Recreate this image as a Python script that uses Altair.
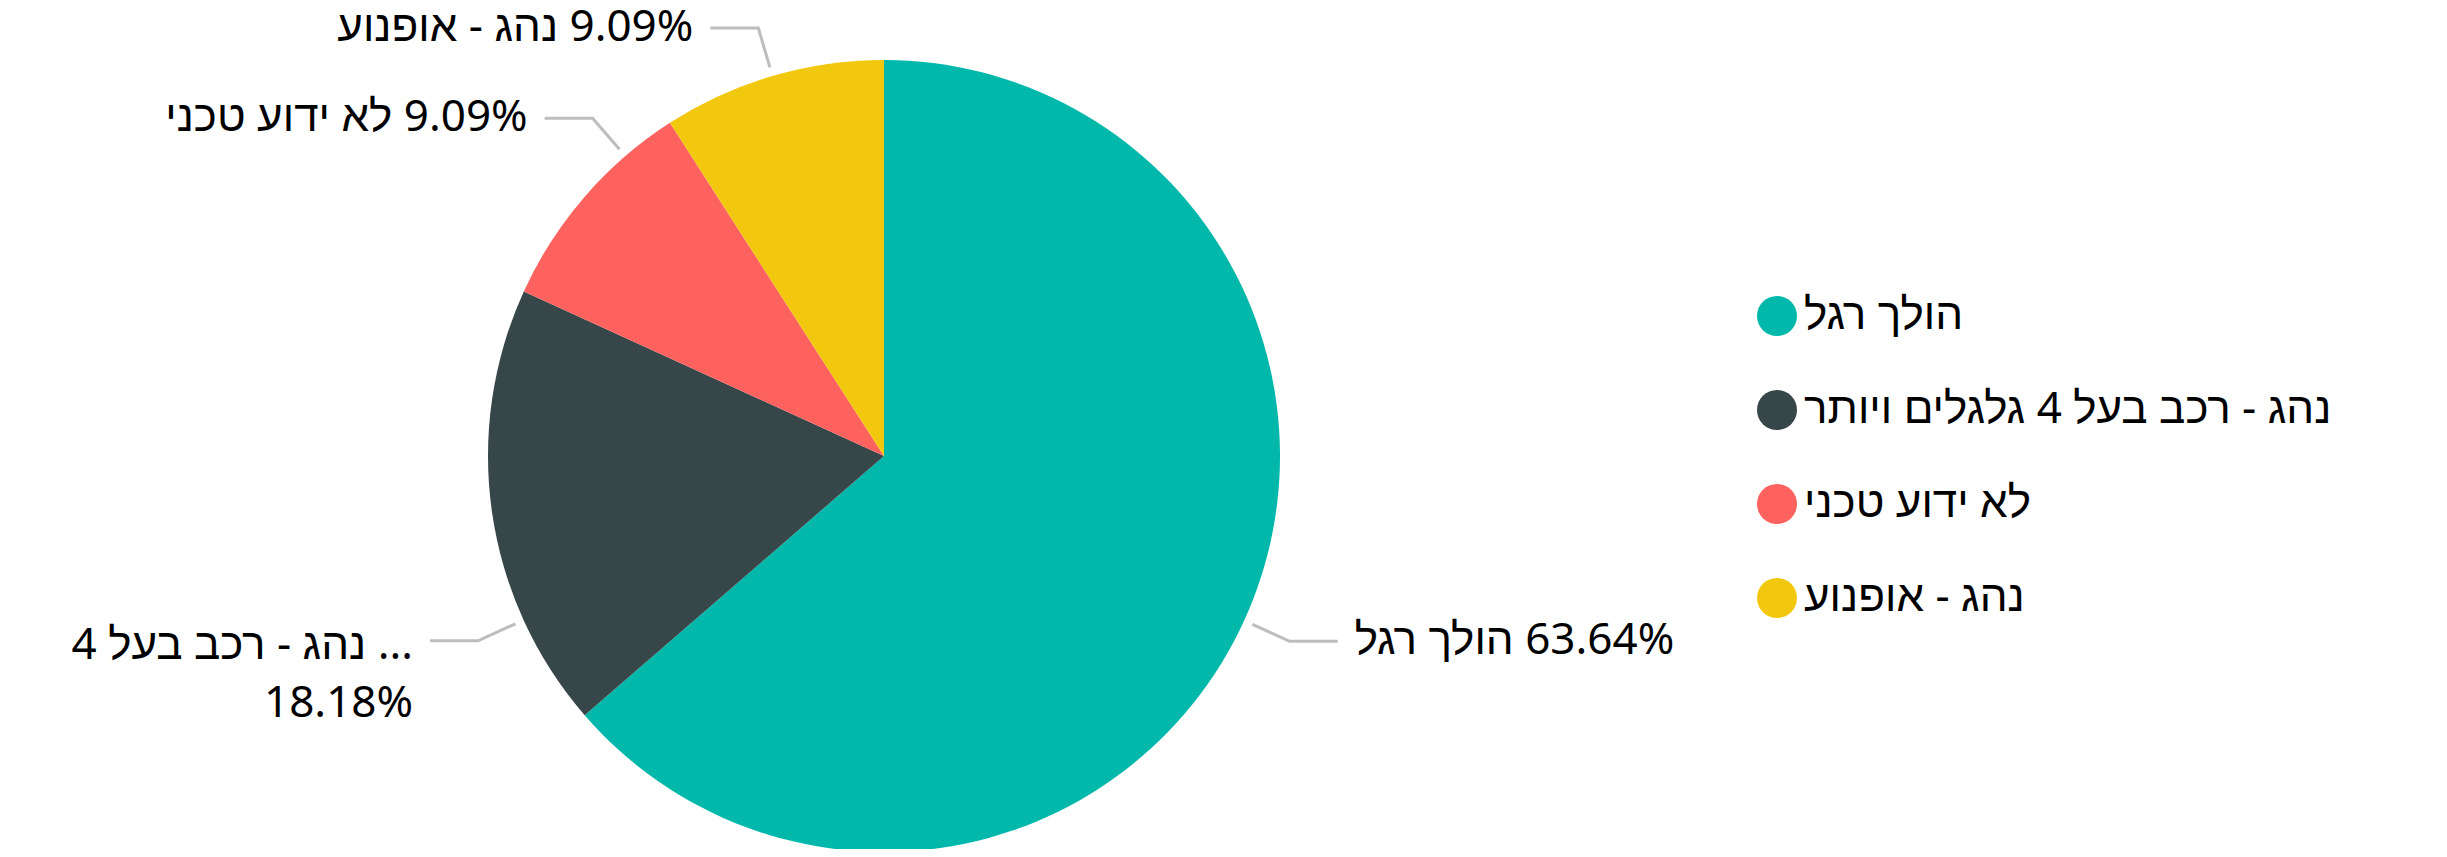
import math
import altair as alt
import pandas as pd

# ---- data ----
categories = ["הולך רגל", "נהג - רכב בעל 4 גלגלים ויותר", "לא ידוע טכני", "נהג - אופנוע"]
percents = [63.64, 18.18, 9.09, 9.09]
label_names = ["הולך רגל", "נהג - רכב בעל 4 ...", "לא ידוע טכני", "נהג - אופנוע"]
label_two_line = [False, True, False, False]
colors = ["#01B8AA", "#374649", "#FD625E", "#F2C80F"]

# ---- layout / style ----
W, H = 2431, 841
CX, CY = 876, 448          # pie centre inside the chart
R = 396                    # pie radius
R_LEAD0, R_LEAD1 = 405, 446
HSEG, TGAP = 48, 17
angle_nudge = [0.0, -16.3, 8.3, 0.0]   # label placement nudges (degrees)
FONT = "Noto Sans, Liberation Sans, sans-serif"
FS = 44
LEAD_COLOR = "#BDBDBD"

pie_df = pd.DataFrame({"cat": categories, "value": percents, "idx": range(len(categories))})

total = sum(percents)
line_rows, text_rows = [], []
cum = 0.0
for i, (cat, v) in enumerate(zip(categories, percents)):
    mid = (cum + v / 2) / total * 360 + angle_nudge[i]
    cum += v
    a = math.radians(mid)
    sx, sy = CX + R_LEAD0 * math.sin(a), CY - R_LEAD0 * math.cos(a)
    ex, ey = CX + R_LEAD1 * math.sin(a), CY - R_LEAD1 * math.cos(a)
    side = 1 if math.sin(a) >= 0 else -1
    hx = ex + side * HSEG
    line_rows += [
        {"cat": cat, "pt": 0, "lx": sx, "ly": sy},
        {"cat": cat, "pt": 1, "lx": ex, "ly": ey},
        {"cat": cat, "pt": 2, "lx": hx, "ly": ey},
    ]
    pct = f"{v:.2f}%"
    if label_two_line[i]:
        txt = f"{label_names[i]}\n{pct}"
    else:
        txt = f"{label_names[i]}\u200e {pct}"
    text_rows.append({"cat": cat, "tx": hx + side * TGAP, "ty": ey + (5 if label_two_line[i] else 0),
                      "label": txt, "side": "right" if side > 0 else "left"})

lines_df = pd.DataFrame(line_rows)
text_df = pd.DataFrame(text_rows)

pie = alt.Chart(pie_df).mark_arc(outerRadius=R).encode(
    theta=alt.Theta("value:Q", stack=True),
    color=alt.Color(
        "cat:N",
        scale=alt.Scale(domain=categories, range=colors),
        sort=categories,
        legend=alt.Legend(
            orient="none", legendX=1747, legendY=286, title=None,
            symbolType="circle", symbolSize=1600, symbolStrokeWidth=0,
            symbolOpacity=1, labelFontSize=FS, labelFont=FONT,
            labelColor="#000000", labelOffset=5, rowPadding=50,
            labelLimit=2000, padding=0,
        ),
    ),
    order=alt.Order("idx:Q"),
    x=alt.value(CX),
    y=alt.value(CY),
)

leaders = alt.Chart(lines_df).mark_line(color=LEAD_COLOR, strokeWidth=3).encode(
    x=alt.X("lx:Q", scale=None, axis=None),
    y=alt.Y("ly:Q", scale=None, axis=None),
    detail="cat:N",
    order="pt:Q",
)

text_right = alt.Chart(text_df).transform_filter("datum.side == 'right'").mark_text(
    align="left", baseline="middle", font=FONT, fontSize=FS, color="#000000", lineBreak="\n", lineHeight=58
).encode(
    x=alt.X("tx:Q", scale=None, axis=None),
    y=alt.Y("ty:Q", scale=None, axis=None),
    text="label:N",
)

text_left = alt.Chart(text_df).transform_filter("datum.side == 'left'").mark_text(
    align="right", baseline="middle", font=FONT, fontSize=FS, color="#000000", lineBreak="\n", lineHeight=58
).encode(
    x=alt.X("tx:Q", scale=None, axis=None),
    y=alt.Y("ty:Q", scale=None, axis=None),
    text="label:N",
)

chart = alt.layer(pie, leaders, text_right, text_left).properties(
    width=W, height=H, autosize=alt.AutoSizeParams(type="none"), padding=0
).configure_view(stroke=None)

chart.save("out.html", embed_options={"renderer": "svg", "actions": False})
